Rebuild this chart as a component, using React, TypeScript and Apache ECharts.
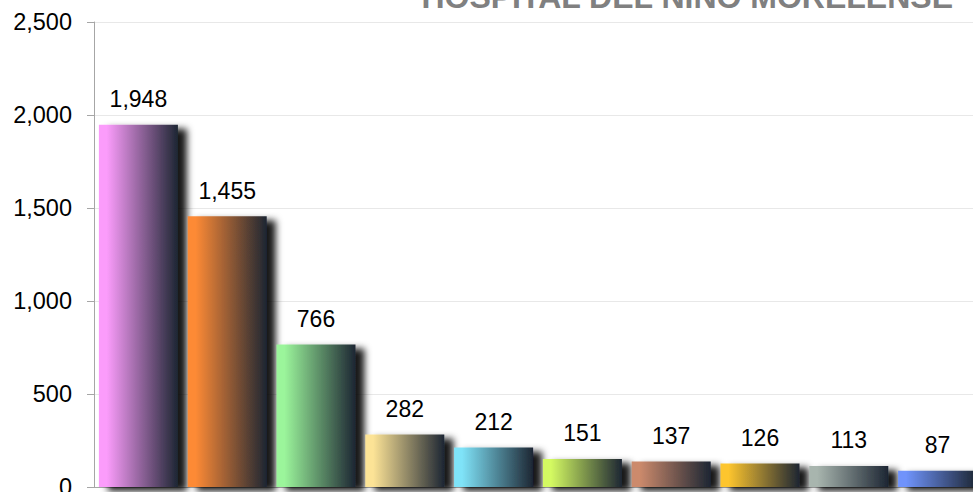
import React, { useEffect, useRef } from "react";
import * as echarts from "echarts";

const categories = ["C1", "C2", "C3", "C4", "C5", "C6", "C7", "C8", "C9", "C10"];
const values = [1948, 1455, 766, 282, 212, 151, 137, 126, 113, 87];
const barColors = [
  "#fb9cfb",
  "#fd8a35",
  "#9bf59b",
  "#fce396",
  "#7fe3f8",
  "#d4fa62",
  "#cc8a6c",
  "#fdc52e",
  "#a8b5ae",
  "#6f93fb",
];
const titleText = "HOSPITAL DEL NIÑO MORELENSE";
const yTicks = { min: 0, max: 2500, interval: 500 };

const FONT = "'Liberation Sans', Arial, sans-serif";

export default function App() {
  const ref = useRef<HTMLDivElement>(null);
  useEffect(() => {
    if (!ref.current) return;
    const chart = echarts.init(ref.current, undefined, { renderer: "svg" });
    const data = values.map((v, i) => ({
      value: v,
      itemStyle: {
        color: new echarts.graphic.LinearGradient(0, 0, 1, 0, [
          { offset: 0, color: barColors[i] },
          { offset: 0.1, color: barColors[i] },
          { offset: 1, color: "#1d2633" },
        ]),
        shadowColor: "rgba(0,0,0,0.9)",
        shadowBlur: 7,
        shadowOffsetX: 9,
        shadowOffsetY: 4,
      },
    }));
    chart.setOption({
      animation: false,
      backgroundColor: "#ffffff",
      grid: {
        left: 94,
        right: -9,
        top: 22,
        bottom: 5,
        containLabel: false,
        outerBoundsMode: "none",
      },
      graphic: [
        {
          type: "text",
          x: 953,
          y: -3,
          style: {
            text: titleText,
            fill: "#808080",
            font: `bold 32px ${FONT}`,
            textAlign: "right",
            textVerticalAlign: "middle",
          },
        },
      ],
      xAxis: {
        type: "category",
        data: categories,
        axisLine: { show: true, lineStyle: { color: "#a6a6a6", width: 1 } },
        axisTick: { show: false },
        axisLabel: { show: false },
      },
      yAxis: {
        type: "value",
        min: yTicks.min,
        max: yTicks.max,
        interval: yTicks.interval,
        axisLine: { show: true, lineStyle: { color: "#a6a6a6", width: 1 } },
        axisTick: { show: true, length: 7, lineStyle: { color: "#a6a6a6" } },
        splitLine: { show: true, lineStyle: { color: "#e8e8e8", width: 1 } },
        axisLabel: {
          margin: 22,
          color: "#000",
          fontSize: 23.5,
          fontFamily: FONT,
          formatter: (v: number) => v.toLocaleString("en-US"),
        },
      },
      series: [
        {
          type: "bar",
          data,
          barCategoryGap: "11%",
          label: {
            show: true,
            position: "top",
            distance: 14,
            color: "#000",
            fontSize: 23,
            fontFamily: FONT,
            formatter: (p: any) => Number(p.value).toLocaleString("en-US"),
          },
        },
      ],
    });
    return () => chart.dispose();
  }, []);
  return <div ref={ref} style={{ width: 973, height: 492, position: "absolute", left: 0, top: 0 }} />;
}
